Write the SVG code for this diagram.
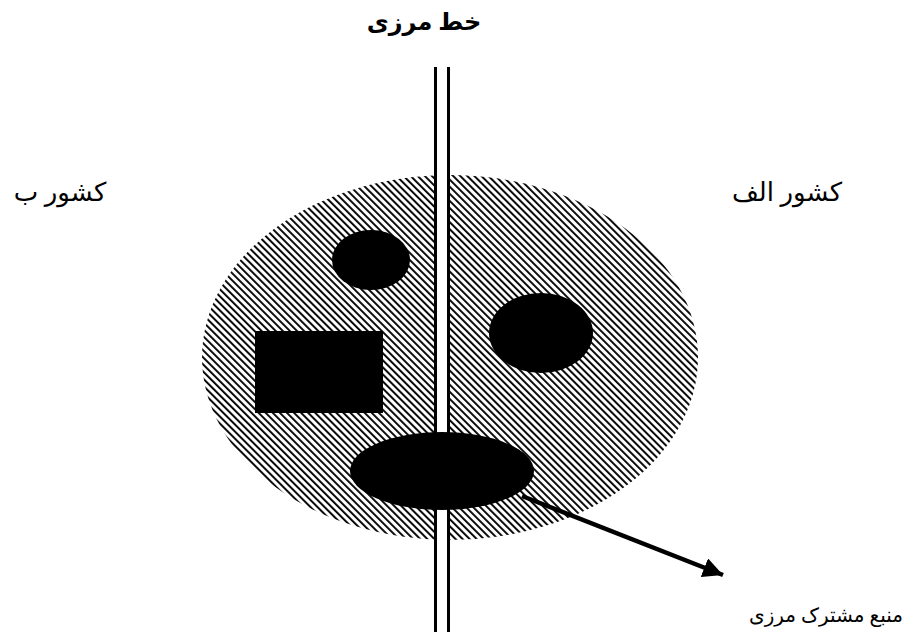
<svg xmlns="http://www.w3.org/2000/svg" width="916" height="632" viewBox="0 0 916 632">
<defs>
<pattern id="hatch" patternUnits="userSpaceOnUse" width="5" height="10" patternTransform="rotate(-45)">
<rect x="0" y="0" width="1.9" height="10" fill="#000"/>
</pattern>
<marker id="arrow" markerUnits="userSpaceOnUse" markerWidth="22" markerHeight="20" refX="20" refY="10" orient="auto">
<path d="M0,0 L20,10 L0,20 z" fill="#000"/>
</marker>
</defs>
<style>
.lbl{font-family:"Liberation Serif","DejaVu Sans",serif;fill:#000;text-anchor:middle}
.blob{fill:#000}
</style>
<rect width="916" height="632" fill="#fff"/>
<g id="shared-area">
<ellipse cx="450" cy="357.5" rx="248" ry="182.5" fill="url(#hatch)"/>
</g>
<g id="border-line">
<rect x="437" y="67" width="10" height="565" fill="#fff"/>
<line x1="435.5" y1="67" x2="435.5" y2="632" stroke="#000" stroke-width="3"/>
<line x1="448.5" y1="67" x2="448.5" y2="632" stroke="#000" stroke-width="3"/>
</g>
<g id="resource-top">
<ellipse class="blob" cx="371" cy="260" rx="39" ry="30"/>
</g>
<g id="resource-right">
<ellipse class="blob" cx="541" cy="333" rx="52" ry="40"/>
</g>
<g id="resource-rect">
<rect class="blob" x="255" y="331" width="128" height="82"/>
</g>
<g id="shared-resource">
<ellipse class="blob" cx="442" cy="471" rx="92" ry="39"/>
</g>
<g id="connectors">
<line x1="522" y1="496" x2="723" y2="575" stroke="#000" stroke-width="4.5" marker-end="url(#arrow)"/>
</g>
<g id="labels">
<text id="title" class="lbl" x="424" y="30" font-size="24" font-weight="bold">خط مرزی</text>
<text id="country-b" class="lbl" x="60" y="201" font-size="26">کشور ب</text>
<text id="country-a" class="lbl" x="787" y="201" font-size="26">کشور الف</text>
<text id="shared-label" class="lbl" x="826" y="622" font-size="20">منبع مشترک مرزی</text>
</g>
</svg>
